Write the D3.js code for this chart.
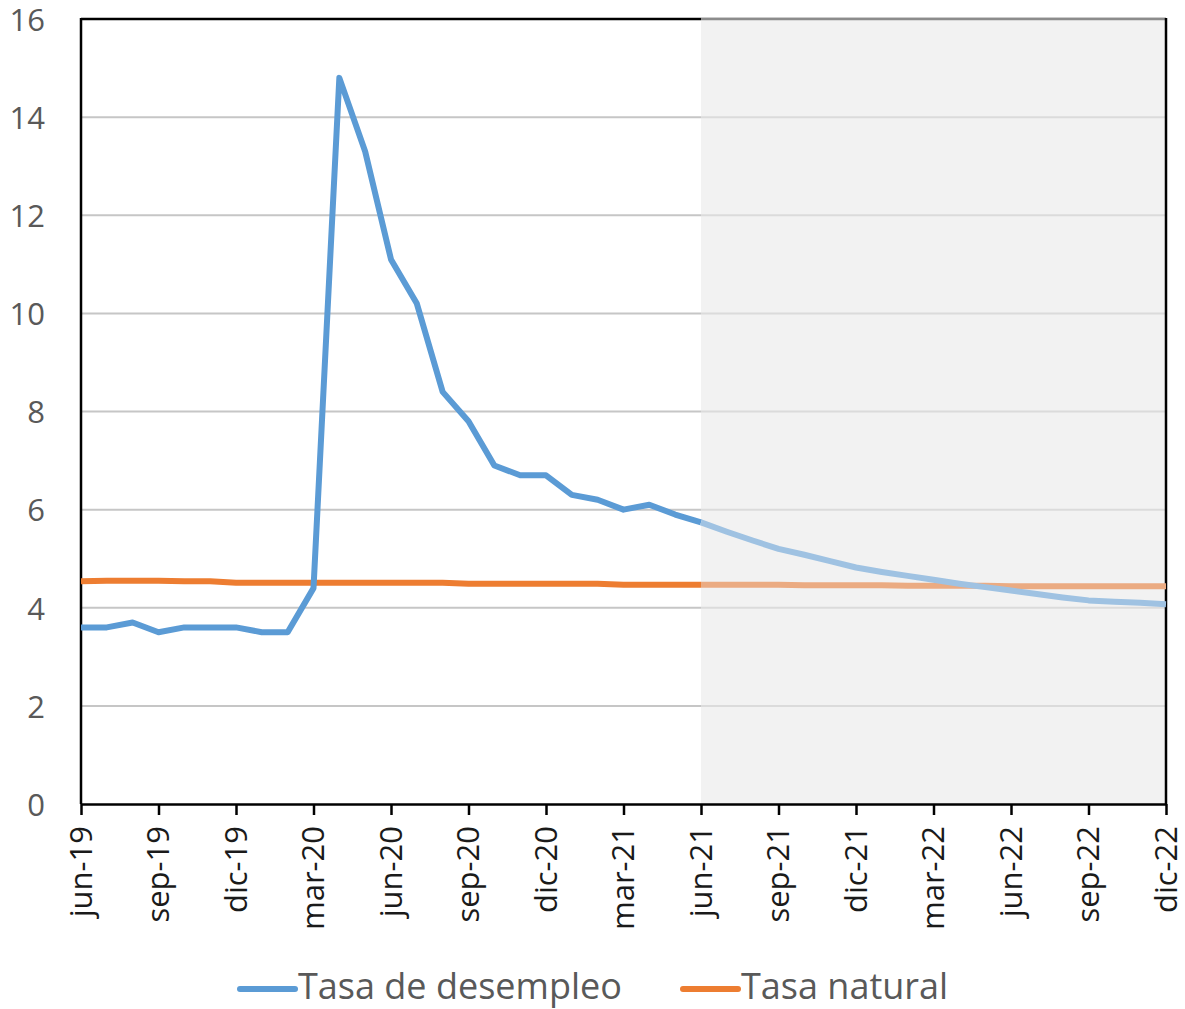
<!DOCTYPE html>
<html>
<head>
<meta charset="utf-8">
<script src="https://cdn.jsdelivr.net/npm/d3@7"></script>
<style>
  html, body { margin: 0; padding: 0; background: #ffffff; }
  svg { display: block; }
  text { font-family: "Open Sans", sans-serif; }
</style>
</head>
<body>
<script>
// ---------- DATA ----------
const months = ["jun-19","jul-19","ago-19","sep-19","oct-19","nov-19","dic-19","ene-20","feb-20","mar-20","abr-20","may-20","jun-20","jul-20","ago-20","sep-20","oct-20","nov-20","dic-20","ene-21","feb-21","mar-21","abr-21","may-21","jun-21","jul-21","ago-21","sep-21","oct-21","nov-21","dic-21","ene-22","feb-22","mar-22","abr-22","may-22","jun-22","jul-22","ago-22","sep-22","oct-22","nov-22","dic-22"];
const tickLabels = ["jun-19","sep-19","dic-19","mar-20","jun-20","sep-20","dic-20","mar-21","jun-21","sep-21","dic-21","mar-22","jun-22","sep-22","dic-22"];
const yTicks = [0,2,4,6,8,10,12,14,16];
const forecastStart = "jun-21";

// Observed (jun-19 .. jun-21)
const desempleoObs = [3.6,3.6,3.7,3.5,3.6,3.6,3.6,3.5,3.5,4.4,14.8,13.3,11.1,10.2,8.4,7.8,6.9,6.7,6.7,6.3,6.2,6.0,6.1,5.9,5.74];
const naturalObs   = [4.54,4.55,4.55,4.55,4.54,4.54,4.51,4.51,4.51,4.51,4.51,4.51,4.51,4.51,4.51,4.49,4.49,4.49,4.49,4.49,4.49,4.47,4.47,4.47,4.47];
// Projection (jun-21 .. dic-22)
const desempleoProj = [5.74,5.55,5.37,5.2,5.08,4.95,4.82,4.73,4.65,4.57,4.49,4.42,4.35,4.28,4.21,4.15,4.12,4.1,4.07];
const naturalProj   = [4.47,4.47,4.47,4.47,4.46,4.46,4.46,4.46,4.45,4.45,4.45,4.45,4.44,4.44,4.44,4.44,4.44,4.44,4.44];

const seriesNames = ["Tasa de desempleo","Tasa natural"];

// ---------- LAYOUT ----------
const W = 1185, H = 1009;
const pLeft = 81, pRight = 1166, pTop = 19, pBottom = 804;
const blue = "#5b9bd5", orange = "#ed7d31";
const blueLight = "#9fc2e2", orangeLight = "#ebab82";

const svg = d3.select("body").append("svg").attr("width", W).attr("height", H);

const x = d3.scalePoint().domain(months).range([pLeft, pRight]);
const y = d3.scaleLinear().domain([0, 16]).range([pBottom, pTop]);

// gridlines
svg.append("g").selectAll("line").data(yTicks.filter(d => d > 0 && d < 16)).join("line")
  .attr("x1", pLeft).attr("x2", pRight)
  .attr("y1", d => y(d)).attr("y2", d => y(d))
  .attr("stroke", "#c6c6c6").attr("stroke-width", 2);

// top border
svg.append("line").attr("x1", pLeft).attr("x2", pRight).attr("y1", y(16)).attr("y2", y(16))
  .attr("stroke", "#000").attr("stroke-width", 2.5);

// projection shade overlay
svg.append("rect")
  .attr("x", x(forecastStart)).attr("y", y(16) - 1.5)
  .attr("width", x(months[months.length - 1]) - x(forecastStart))
  .attr("height", y(0) - y(16) + 1.5)
  .attr("fill", "rgb(234,234,234)").attr("fill-opacity", 0.6);

// left axis line
svg.append("line").attr("x1", pLeft).attr("x2", pLeft).attr("y1", y(16) - 1).attr("y2", y(0))
  .attr("stroke", "#000").attr("stroke-width", 2.5);
// right border
svg.append("line").attr("x1", pRight).attr("x2", pRight).attr("y1", y(16) - 1).attr("y2", y(0))
  .attr("stroke", "#000").attr("stroke-width", 2.5);

// y labels
svg.append("g").selectAll("text").data(yTicks).join("text")
  .attr("x", 45).attr("y", d => y(d))
  .attr("dy", "0.38em")
  .attr("text-anchor", "end")
  .attr("fill", "#595959")
  .attr("font-size", 31)
  .text(d => d);

// x axis
const xAxis = d3.axisBottom(x).tickValues(tickLabels).tickSize(11).tickSizeOuter(0).tickFormat("");
const gx = svg.append("g").attr("transform", `translate(0,${y(0)})`).call(xAxis);
gx.select(".domain").attr("stroke", "#000").attr("stroke-width", 2.5);
gx.selectAll(".tick line").attr("stroke", "#000").attr("stroke-width", 2.5);

svg.append("g").selectAll("text").data(tickLabels).join("text")
  .attr("transform", d => `translate(${x(d)},${826}) rotate(-90)`)
  .attr("text-anchor", "end")
  .attr("dy", "0.34em")
  .attr("fill", "#1a1a1a")
  .attr("font-size", 31)
  .text(d => d);

// lines
const line = d3.line().x(d => x(d[0])).y(d => y(d[1]));
const obsMonths = months.slice(0, desempleoObs.length);
const projMonths = months.slice(months.indexOf(forecastStart));

function draw(ms, vals, color) {
  svg.append("path")
    .datum(ms.map((m, i) => [m, vals[i]]))
    .attr("d", line)
    .attr("fill", "none")
    .attr("stroke", color)
    .attr("stroke-width", 6)
    .attr("stroke-linejoin", "round");
}
draw(obsMonths, naturalObs, orange);
draw(projMonths, naturalProj, orangeLight);
draw(obsMonths, desempleoObs, blue);
draw(projMonths, desempleoProj, blueLight);

// legend
const legend = [
  { name: seriesNames[0], color: blue, x0: 240 },
  { name: seriesNames[1], color: orange, x0: 683 }
];
const lg = svg.append("g");
legend.forEach(l => {
  lg.append("line").attr("x1", l.x0).attr("x2", l.x0 + 55).attr("y1", 989).attr("y2", 989)
    .attr("stroke", l.color).attr("stroke-width", 6).attr("stroke-linecap", "round");
  lg.append("text").attr("x", l.x0 + 58).attr("y", 999)
    .attr("fill", "#595959").attr("font-size", 36).text(l.name);
});
</script>
</body>
</html>
